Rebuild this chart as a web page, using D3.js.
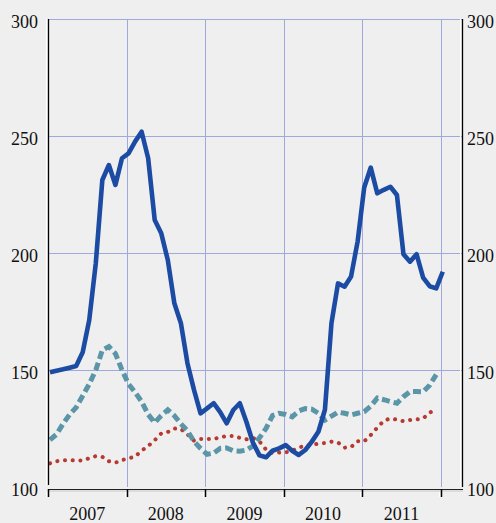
<!DOCTYPE html>
<html><head><meta charset="utf-8">
<script src="https://cdn.jsdelivr.net/npm/d3@7"></script>
<style>
html,body{margin:0;padding:0;background:#efefef;}
svg{display:block;}
</style></head>
<body>
<svg id="chart" width="496" height="523"></svg>
<script>
// ---- data (monthly, Jan 2007 onward) ----
const startYear = 2007;
const yearLabels = ["2007", "2008", "2009", "2010", "2011"];
const yTicks = [100, 150, 200, 250, 300];
const seriesBlue = [149.0,149.7,150.3,151.0,151.7,157.6,171.4,195.6,231.2,237.6,229.1,240.5,242.6,247.6,251.8,240.5,
  214.1,208.4,197.0,178.5,170.0,152.9,141.5,131.5,133.6,135.8,132.0,127.2,132.9,135.8,127.9,119.0,113.5,112.7,115.5,116.5,
  117.9,115.5,113.7,115.8,119.4,123.6,133.0,170.0,187.0,185.6,190.0,205.0,228.0,236.5,225.5,227.0,228.3,224.8,199.5,196.3,
  199.5,189.5,185.8,184.9,192.0];
const seriesTeal = [120.1,122.5,127.0,131.0,134.0,139.0,144.0,150.0,158.5,160.0,157.0,150.0,144.0,140.5,136.5,131.0,
  127.5,130.5,133.0,130.5,127.0,124.0,119.5,116.5,114.0,114.5,116.5,116.7,115.5,115.3,115.8,117.5,121.0,125.0,130.5,131.5,
  131.0,130.0,132.5,133.5,133.3,131.5,128.6,130.3,132.0,131.5,130.8,131.5,132.2,134.5,138.0,137.3,136.5,135.8,138.6,140.8,
  140.8,140.7,143.5,148.0];
const seriesRed = [110.1,111.0,111.4,111.5,111.3,111.3,112.3,113.2,112.9,111.0,110.4,111.5,112.2,113.0,115.5,117.5,
  120.0,122.9,123.5,125.0,124.8,122.5,119.8,120.5,120.5,120.5,121.2,121.8,121.8,121.0,120.4,121.0,119.5,116.0,114.4,114.7,
  114.8,115.5,116.8,117.7,118.0,118.5,118.8,119.4,119.0,116.8,117.1,119.6,119.5,122.2,125.4,128.3,129.3,128.8,128.1,128.6,
  128.9,129.3,131.7,133.6];

// ---- layout ----
const L = 48, R = 462, T = 19, B = 487;
const svg = d3.select("#chart");
const x = d3.scaleLinear().domain([2007, 2012.27]).range([L, R]);
const y = d3.scaleLinear().domain([100, 300]).range([B, T]);
const monthPos = i => startYear + (i + 0.3) / 12;

svg.append("rect").attr("width", 496).attr("height", 523).attr("fill", "#efefef");

// gridlines
const gridColor = "#a0a9de";
svg.append("g").selectAll("line").data(yTicks.filter(v => v > 100)).join("line")
  .attr("x1", L).attr("x2", R).attr("y1", d => y(d) + 0.5).attr("y2", d => y(d) + 0.5)
  .attr("stroke", gridColor).attr("stroke-width", 1);
const yearTicks = d3.range(startYear, startYear + yearLabels.length + 1);
svg.append("g").selectAll("line").data(yearTicks.slice(1)).join("line")
  .attr("x1", d => Math.round(x(d)) + 0.5).attr("x2", d => Math.round(x(d)) + 0.5)
  .attr("y1", T).attr("y2", B)
  .attr("stroke", gridColor).attr("stroke-width", 1);

// series lines
const line = d3.line().x((d, i) => x(monthPos(i))).y(d => y(d));
svg.append("path").datum(seriesRed).attr("d", line).attr("fill", "none")
  .attr("stroke", "#b63a2f").attr("stroke-width", 4).attr("stroke-linecap", "round")
  .attr("stroke-dasharray", "0.1 7.6");
svg.append("path").datum(seriesTeal).attr("d", line).attr("fill", "none")
  .attr("stroke", "#5a96a7").attr("stroke-width", 5).attr("stroke-dasharray", "8 4");
svg.append("path").datum(seriesBlue).attr("d", line).attr("fill", "none")
  .attr("stroke", "#1c4ba3").attr("stroke-width", 4.6).attr("stroke-linejoin", "round");

// axis lines (with light highlight)
const ax = svg.append("g");
[[L, T, L, B - 2], [R, T, R, B]].forEach(([x1, y1, x2, y2]) => {
  ax.append("line").attr("x1", x1 - 1.5).attr("x2", x2 - 1.5).attr("y1", y1).attr("y2", y2)
    .attr("stroke", "#ffffff").attr("stroke-width", 1);
  ax.append("line").attr("x1", x1 + 0.5).attr("x2", x2 + 0.5).attr("y1", y1).attr("y2", y2)
    .attr("stroke", "#000").attr("stroke-width", 1.3);
});
// bottom axis
ax.append("line").attr("x1", L).attr("x2", R + 1).attr("y1", B + 2.5).attr("y2", B + 2.5)
  .attr("stroke", "#222").attr("stroke-width", 1.2);
ax.append("line").attr("x1", L).attr("x2", R + 1).attr("y1", B + 4).attr("y2", B + 4)
  .attr("stroke", "#c8c8c8").attr("stroke-width", 1);
ax.selectAll(".tk").data(yearTicks).join("line").attr("class", "tk")
  .attr("x1", d => Math.round(x(d)) + 0.5).attr("x2", d => Math.round(x(d)) + 0.5)
  .attr("y1", B + 2).attr("y2", B + 10)
  .attr("stroke", "#000").attr("stroke-width", 1.5);
ax.selectAll(".tkw").data(yearTicks).join("line").attr("class", "tkw")
  .attr("x1", d => Math.round(x(d)) - 1.5).attr("x2", d => Math.round(x(d)) - 1.5)
  .attr("y1", B + 5).attr("y2", B + 10)
  .attr("stroke", "#fff").attr("stroke-width", 1);

// labels
const font = "'Liberation Serif', 'Times New Roman', serif";
svg.append("g").selectAll("text").data(yTicks).join("text")
  .attr("x", 38).attr("y", d => y(d) + 8.5).attr("text-anchor", "end")
  .attr("font-family", font).attr("font-size", 18).attr("fill", "#111").text(d => d);
svg.append("g").selectAll("text").data(yTicks).join("text")
  .attr("x", 467).attr("y", d => y(d) + 8.5).attr("text-anchor", "start")
  .attr("font-family", font).attr("font-size", 18).attr("fill", "#111").text(d => d);
svg.append("g").selectAll("text").data(yearLabels).join("text")
  .attr("x", (d, i) => x(startYear + i + 0.5)).attr("y", 520).attr("text-anchor", "middle")
  .attr("font-family", font).attr("font-size", 18).attr("fill", "#111").text(d => d);
</script>
</body></html>
